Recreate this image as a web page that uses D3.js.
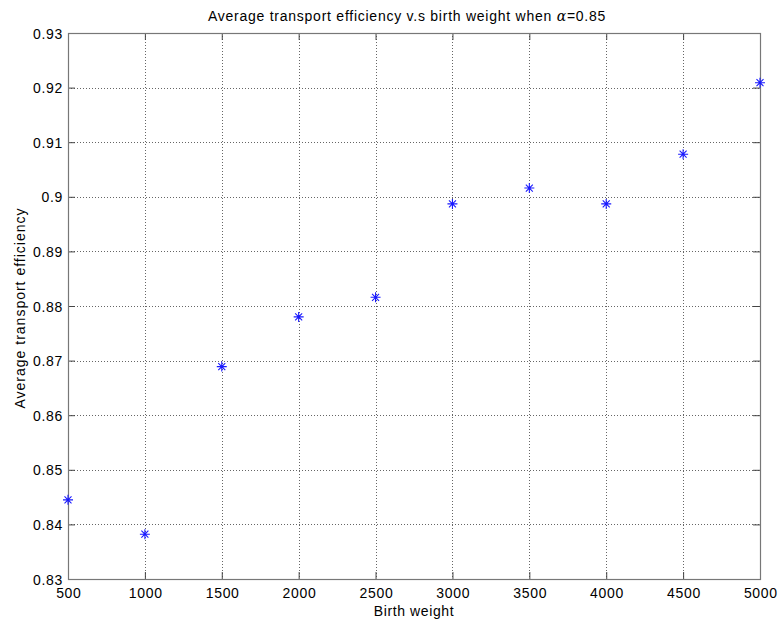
<!DOCTYPE html>
<html>
<head>
<meta charset="utf-8">
<script src="https://cdn.jsdelivr.net/npm/d3@7"></script>
<style>
  html, body { margin: 0; padding: 0; background: #fff; }
  svg { display: block; font-family: "Liberation Sans", Arial, Helvetica, sans-serif; }
</style>
</head>
<body>
<svg id="chart" width="780" height="623"></svg>
<script>
// Birth weight samples and the mean transport efficiency measured at each
const birthWeight = [500, 1000, 1500, 2000, 2500, 3000, 3500, 4000, 4500, 5000];
const efficiency  = [0.8445, 0.8382, 0.8689, 0.8780, 0.8816, 0.8987, 0.9016, 0.8987, 0.9078, 0.9209];

const xTicks = [500, 1000, 1500, 2000, 2500, 3000, 3500, 4000, 4500, 5000];
const yTicks = [0.83, 0.84, 0.85, 0.86, 0.87, 0.88, 0.89, 0.90, 0.91, 0.92, 0.93];
const yTickLabels = ["0.83", "0.84", "0.85", "0.86", "0.87", "0.88", "0.89", "0.9", "0.91", "0.92", "0.93"];

const svg = d3.select("#chart");
const plotL = 68, plotR = 760, plotT = 33, plotB = 579;

const x = d3.scaleLinear().domain([500, 5000]).range([plotL, plotR]);
const y = d3.scaleLinear().domain([0.83, 0.93]).range([plotB, plotT]);

const axisColor = "#444";
const tickLen = 7;
const labelFont = "14px";
const tickSpacing = "0.7px";

// Dotted grid
const grid = svg.append("g").attr("stroke", "#333").attr("stroke-width", 1)
  .attr("stroke-dasharray", "1,2").attr("opacity", 0.75);
grid.selectAll(".gx").data(xTicks.slice(1, -1)).join("line")
  .attr("x1", d => Math.round(x(d)) + 0.5).attr("x2", d => Math.round(x(d)) + 0.5)
  .attr("y1", plotT).attr("y2", plotB);
grid.selectAll(".gy").data(yTicks.slice(1, -1)).join("line")
  .attr("y1", d => Math.round(y(d)) + 0.5).attr("y2", d => Math.round(y(d)) + 0.5)
  .attr("x1", plotL).attr("x2", plotR);

// Bottom and left axes with inward ticks
const xAxis = d3.axisBottom(x).tickValues(xTicks).tickFormat(d3.format("d"))
  .tickSizeInner(-tickLen).tickSizeOuter(0).tickPadding(0);
const yAxis = d3.axisLeft(y).tickValues(yTicks).tickFormat((d, i) => yTickLabels[i])
  .tickSizeInner(-tickLen).tickSizeOuter(0).tickPadding(0);

const gx = svg.append("g").attr("transform", `translate(0,${plotB})`).call(xAxis);
const gy = svg.append("g").attr("transform", `translate(${plotL},0)`).call(yAxis);
[gx, gy].forEach(g => {
  g.select(".domain").remove();
  g.selectAll(".tick line").attr("stroke", axisColor);
  g.selectAll(".tick text").attr("fill", "#000")
    .style("font-size", labelFont).style("letter-spacing", tickSpacing);
});
gx.selectAll(".tick text").attr("y", 19).attr("dy", null).attr("dx", "0.35px");
gy.selectAll(".tick text").attr("x", -5).attr("dy", "0.36em");

// Top and right inward ticks
const gTop = svg.append("g").attr("transform", `translate(0,${plotT})`)
  .call(d3.axisTop(x).tickValues(xTicks).tickSizeInner(-tickLen).tickSizeOuter(0).tickFormat(""));
const gRight = svg.append("g").attr("transform", `translate(${plotR},0)`)
  .call(d3.axisRight(y).tickValues(yTicks).tickSizeInner(-tickLen).tickSizeOuter(0).tickFormat(""));
[gTop, gRight].forEach(g => {
  g.select(".domain").remove();
  g.selectAll(".tick line").attr("stroke", axisColor);
});

// Plot box
svg.append("rect")
  .attr("x", plotL + 0.5).attr("y", plotT + 0.5)
  .attr("width", plotR - plotL).attr("height", plotB - plotT)
  .attr("fill", "none").attr("stroke", "#777").attr("stroke-width", 1.2);

// Star markers
const r = 5;
const stars = svg.append("g").attr("stroke", "#1a1aff").attr("stroke-width", 1.1).attr("fill", "none");
stars.selectAll("path").data(birthWeight.map((b, i) => [b, efficiency[i]])).join("path")
  .attr("d", d => {
    const cx = x(d[0]), cy = y(d[1]), k = r * 0.7;
    return `M${cx - r},${cy}H${cx + r}M${cx},${cy - r}V${cy + r}` +
           `M${cx - k},${cy - k}L${cx + k},${cy + k}M${cx - k},${cy + k}L${cx + k},${cy - k}`;
  });

// Title and axis labels
const title = svg.append("text").attr("x", 407).attr("y", 20.5)
  .attr("text-anchor", "middle").style("font-size", labelFont).style("letter-spacing", "0.75px")
  .attr("fill", "#000");
title.append("tspan").text("Average transport efficiency v.s birth weight when ");
title.append("tspan").text("α").style("font-family", "'DejaVu Serif', serif").style("font-style", "italic");
title.append("tspan").text("=0.85");

svg.append("text").attr("x", 414).attr("y", 616)
  .attr("text-anchor", "middle").style("font-size", labelFont).style("letter-spacing", "0.6px")
  .attr("fill", "#000").text("Birth weight");

svg.append("text").attr("transform", `translate(25,308) rotate(-90)`)
  .attr("text-anchor", "middle").style("font-size", labelFont).style("letter-spacing", "1px")
  .attr("fill", "#000")
  .text("Average transport efficiency");
</script>
</body>
</html>
